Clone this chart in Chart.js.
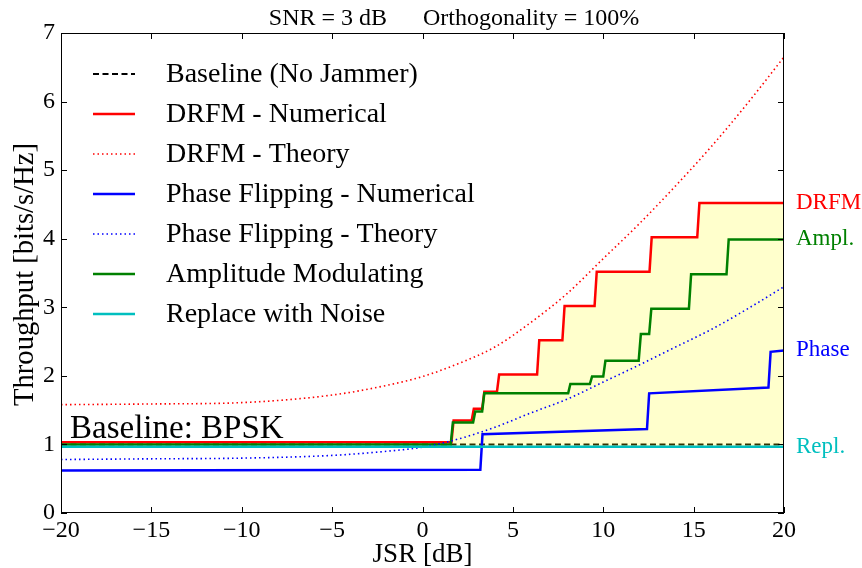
<!DOCTYPE html>
<html><head><meta charset="utf-8">
<script src="https://cdn.jsdelivr.net/npm/chart.js@4/dist/chart.umd.min.js"></script>
<style>html,body{margin:0;padding:0;background:#fff}canvas{display:block}</style>
</head><body>
<canvas id="c" width="862" height="568"></canvas>
<script>
// ---- data ----
const baselineX = [-20, 20];
const baselineY = [1.0, 1.0];
const drfmNumX = [-20, 1.6, 1.72, 2.72, 2.84, 3.3, 3.42, 4.12, 4.24, 6.34, 6.46, 7.74, 7.86, 9.52, 9.64, 12.56, 12.68, 15.2, 15.32, 20];
const drfmNumY = [1.03, 1.03, 1.35, 1.35, 1.52, 1.52, 1.77, 1.77, 2.02, 2.02, 2.52, 2.52, 3.02, 3.02, 3.52, 3.52, 4.02, 4.02, 4.52, 4.52];
const drfmThX = [-20, -15, -10, -5, -2, 0, 2, 4, 6, 8, 10, 12, 14, 16, 18, 20];
const drfmThY = [1.58, 1.59, 1.61, 1.72, 1.86, 1.99, 2.18, 2.42, 2.78, 3.2, 3.71, 4.22, 4.77, 5.35, 5.98, 6.65];
const phaseNumX = [-20, 3.2, 3.32, 12.42, 12.54, 19.14, 19.26, 20];
const phaseNumY = [0.62, 0.63, 1.15, 1.225, 1.745, 1.83, 2.35, 2.37];
const phaseThX = [-20, -15, -10, -5, -2, 0, 2, 4, 6, 8, 10, 12, 14, 16, 18, 20];
const phaseThY = [0.78, 0.79, 0.8, 0.84, 0.9, 0.96, 1.08, 1.25, 1.46, 1.66, 1.91, 2.16, 2.42, 2.68, 2.98, 3.3];
const amplX = [-20, 1.56, 1.68, 2.8, 2.92, 3.3, 3.42, 8.06, 8.18, 9.26, 9.38, 10.0, 10.12, 11.96, 12.08, 12.54, 12.66, 14.74, 14.86, 16.82, 16.94, 20];
const amplY = [1.0, 1.0, 1.32, 1.32, 1.48, 1.48, 1.745, 1.745, 1.88, 1.88, 1.99, 1.99, 2.22, 2.22, 2.61, 2.61, 2.98, 2.98, 3.48, 3.48, 3.99, 3.99];
const replX = [-20, 20];
const replY = [0.965, 0.965];
const xTicks = [-20, -15, -10, -5, 0, 5, 10, 15, 20];
const yTicks = [0, 1, 2, 3, 4, 5, 6, 7];
const seriesNames = ["Baseline (No Jammer)", "DRFM - Numerical", "DRFM - Theory", "Phase Flipping - Numerical", "Phase Flipping - Theory", "Amplitude Modulating", "Replace with Noise"];
const endLabels = [["DRFM", 4.52, "#ff0000"], ["Ampl.", 4.0, "#008000"], ["Phase", 2.38, "#0000ff"], ["Repl.", 0.965, "#00bfbf"]];
const titleText = "SNR = 3 dB      Orthogonality = 100%";
const noteText = "Baseline: BPSK";

const pts = (xs, ys) => xs.map((x, i) => ({x: x, y: ys[i]}));
const SERIF = "'Liberation Serif', 'Times New Roman', serif";

const ds = [
  {label: seriesNames[0], data: pts(baselineX, baselineY), borderColor: '#000', borderWidth: 2, borderDash: [6, 3.5], order: 3},
  {label: seriesNames[1], data: pts(drfmNumX, drfmNumY), borderColor: '#ff0000', borderWidth: 2.5, fill: {value: 0.965}, backgroundColor: 'rgba(255,255,0,0.2)', order: 2},
  {label: seriesNames[2], data: pts(drfmThX, drfmThY), borderColor: '#ff0000', borderWidth: 1.6, borderDash: [1.5, 3], cubicInterpolationMode: 'monotone', order: 1},
  {label: seriesNames[3], data: pts(phaseNumX, phaseNumY), borderColor: '#0000ff', borderWidth: 2.5, order: 1},
  {label: seriesNames[4], data: pts(phaseThX, phaseThY), borderColor: '#0000ff', borderWidth: 1.6, borderDash: [1.5, 3], cubicInterpolationMode: 'monotone', order: 1},
  {label: seriesNames[5], data: pts(amplX, amplY), borderColor: '#008000', borderWidth: 2.5, order: 1},
  {label: seriesNames[6], data: pts(replX, replY), borderColor: '#00bfbf', borderWidth: 2.5, order: 0}
];
ds.forEach(d => { d.pointRadius = 0; d.pointHoverRadius = 0; if (!d.fill) d.fill = false; d.tension = d.tension || 0; });

const decor = {
  id: 'decor',
  afterDatasetsDraw(chart) {
    const ctx = chart.ctx, a = chart.chartArea, xs = chart.scales.x, ys = chart.scales.y;
    ctx.save();
    // frame
    ctx.strokeStyle = '#000'; ctx.lineWidth = 1;
    ctx.strokeRect(Math.round(a.left) + 0.5, Math.round(a.top) + 0.5, Math.round(a.right - a.left) - 1, Math.round(a.bottom - a.top) - 1);
    // inward ticks
    ctx.beginPath();
    xTicks.forEach(v => { const p = Math.round(xs.getPixelForValue(v)) + 0.5; ctx.moveTo(p, a.bottom); ctx.lineTo(p, a.bottom - 6); ctx.moveTo(p, a.top); ctx.lineTo(p, a.top + 6); });
    yTicks.forEach(v => { const p = Math.round(ys.getPixelForValue(v)) + 0.5; ctx.moveTo(a.left, p); ctx.lineTo(a.left + 6, p); ctx.moveTo(a.right, p); ctx.lineTo(a.right - 6, p); });
    ctx.stroke();
    // legend
    ctx.textBaseline = 'middle'; ctx.textAlign = 'left';
    ctx.font = '28px ' + SERIF;
    chart.data.datasets.forEach((d, i) => {
      const y = 74 + i * 40;
      ctx.beginPath(); ctx.strokeStyle = d.borderColor; ctx.lineWidth = d.borderWidth;
      ctx.setLineDash(d.borderDash || []);
      ctx.moveTo(93, y); ctx.lineTo(135, y); ctx.stroke();
      ctx.setLineDash([]);
      ctx.fillStyle = '#000'; ctx.fillText(d.label, 166, y + 1);
    });
    // baseline note
    ctx.font = '33px ' + SERIF; ctx.textBaseline = 'alphabetic';
    ctx.fillText(noteText, 70, 438);
    // end labels
    ctx.font = '23px ' + SERIF; ctx.textBaseline = 'middle';
    endLabels.forEach(l => { ctx.fillStyle = l[2]; ctx.fillText(l[0], 796, ys.getPixelForValue(l[1])); });
    // title
    ctx.fillStyle = '#000'; ctx.textAlign = 'center'; ctx.font = '24px ' + SERIF;
    ctx.fillText(titleText, 454, 19);
    // axis titles
    ctx.textBaseline = 'alphabetic';
    ctx.font = '27px ' + SERIF;
    ctx.fillText('JSR [dB]', (a.left + a.right) / 2, 562);
    ctx.font = '28.6px ' + SERIF;
    ctx.save(); ctx.translate(33, 274.5); ctx.rotate(-Math.PI / 2);
    ctx.fillText('Throughput [bits/s/Hz]', 0, 0); ctx.restore();
    ctx.restore();
  }
};

new Chart(document.getElementById('c'), {
  type: 'line',
  data: {datasets: ds},
  options: {
    responsive: false, animation: false, devicePixelRatio: 1,
    layout: {padding: {top: 33, right: 78, left: 0, bottom: 0}},
    plugins: {legend: {display: false}, title: {display: false}, tooltip: {enabled: false}},
    scales: {
      x: {type: 'linear', min: -20, max: 20,
        afterBuildTicks: s => { s.ticks = xTicks.map(v => ({value: v})); },
        afterFit: s => { s.height = 55; },
        grid: {display: false, drawTicks: false}, border: {display: false},
        ticks: {padding: 3, color: '#000', font: {family: SERIF, size: 24}, maxRotation: 0,
          callback: v => String(v).replace('-', '\u2212')}},
      y: {type: 'linear', min: 0, max: 7,
        afterBuildTicks: s => { s.ticks = yTicks.map(v => ({value: v})); },
        afterFit: s => { s.width = 61; },
        grid: {display: false, drawTicks: false}, border: {display: false},
        ticks: {padding: 6, color: '#000', font: {family: SERIF, size: 24}}}
    }
  },
  plugins: [decor]
});
</script>
</body></html>
